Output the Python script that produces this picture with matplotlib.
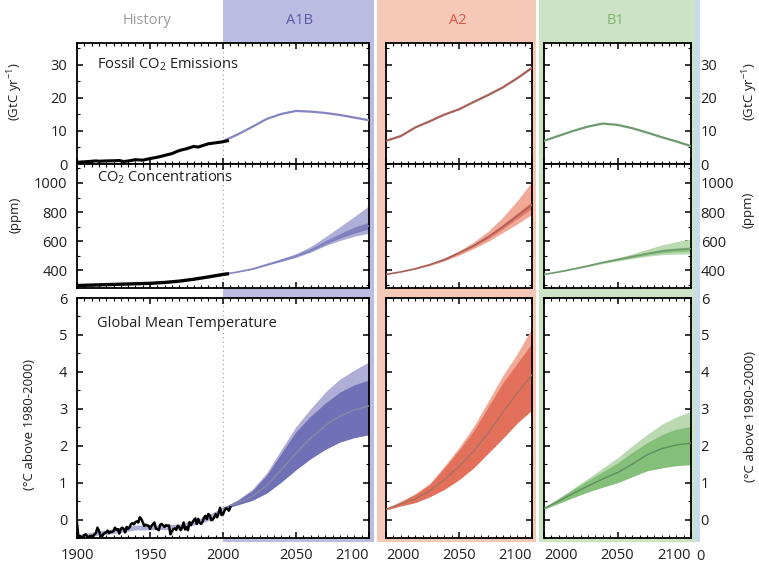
import matplotlib.pyplot as plt
from matplotlib.patches import Rectangle
from matplotlib.ticker import MultipleLocator

plt.rcParams['font.family'] = ['Open Sans', 'DejaVu Sans']
plt.rcParams['mathtext.default'] = 'regular'

W, H = 759, 567

# ---- observed history ----
EMIS_HIST_YEARS = [1900, 1905, 1910, 1913, 1915, 1920, 1925, 1929, 1932, 1935, 1940, 1945,
                   1950, 1955, 1960, 1965, 1970, 1975, 1980, 1983, 1985, 1990, 1995, 2000, 2003]
EMIS_HIST = [0.53, 0.66, 0.82, 0.94, 0.84, 0.93, 0.98, 1.05, 0.75, 0.90, 1.30, 1.16,
             1.63, 2.04, 2.58, 3.14, 4.05, 4.6, 5.3, 5.1, 5.4, 6.1, 6.4, 6.7, 7.0]

CO2_HIST_YEARS = [1900, 1910, 1920, 1930, 1940, 1950, 1960, 1970, 1980, 1990, 2000, 2003]
CO2_HIST = [297, 300, 303, 306, 309, 312, 318, 327, 340, 356, 373, 377]

TEMP_HIST_YEARS = list(range(1900, 2006))
TEMP_HIST = [-0.10, -0.48, -0.45, -0.47, -0.48, -0.42, -0.40, -0.46, -0.47, -0.45,
             -0.44, -0.46, -0.40, -0.36, -0.22, -0.30, -0.42, -0.47, -0.40, -0.36,
             -0.35, -0.30, -0.37, -0.33, -0.34, -0.31, -0.22, -0.28, -0.26, -0.38,
             -0.25, -0.22, -0.26, -0.35, -0.20, -0.25, -0.21, -0.12, -0.10, -0.13,
             -0.07, -0.05, -0.08, 0.06, 0.02, -0.07, -0.17, -0.14, -0.16, -0.17,
             -0.25, -0.17, -0.13, -0.08, -0.24, -0.26, -0.29, -0.14, -0.12, -0.16,
             -0.20, -0.15, -0.17, -0.16, -0.40, -0.32, -0.26, -0.24, -0.28, -0.17,
             -0.20, -0.29, -0.22, -0.08, -0.27, -0.21, -0.29, -0.07, -0.15, -0.08,
             -0.02, 0.03, -0.12, 0.02, -0.09, -0.12, -0.06, 0.05, 0.10, 0.01,
             0.15, 0.11, -0.02, 0.00, 0.06, 0.15, 0.06, 0.17, 0.32, 0.12,
             0.14, 0.24, 0.30, 0.29, 0.24, 0.33]

# model hindcast range behind the observations
HIND_YEARS = [1900, 1910, 1920, 1930, 1940, 1950, 1960, 1970, 1980, 1990, 2000]
HIND_LOW = [-0.50, -0.45, -0.40, -0.35, -0.28, -0.28, -0.27, -0.25, -0.15, -0.03, 0.24]
HIND_HIGH = [-0.40, -0.35, -0.28, -0.22, -0.15, -0.15, -0.14, -0.12, -0.02, 0.12, 0.34]

# ---- scenario projections ----
YEARS = [2000, 2010, 2020, 2030, 2040, 2050, 2060, 2070, 2080, 2090, 2100]

A1B_EMIS = [6.9, 8.9, 11.2, 13.6, 15.1, 16.0, 15.8, 15.4, 14.8, 14.0, 13.2]
A2_EMIS = [7.0, 8.4, 11.0, 12.9, 14.9, 16.5, 18.7, 20.8, 23.1, 25.9, 29.0]
B1_EMIS = [7.0, 8.5, 10.0, 11.3, 12.2, 11.8, 10.8, 9.5, 8.1, 6.8, 5.4]

A1B_CO2 = [373, 390, 410, 440, 470, 500, 540, 590, 635, 675, 705]
A1B_CO2_LO = [373, 389, 407, 435, 462, 490, 525, 570, 605, 635, 655]
A1B_CO2_HI = [373, 391, 413, 445, 480, 515, 565, 630, 700, 770, 845]
A1B_CO2_DLO = [373, 390, 409, 438, 466, 495, 533, 580, 622, 657, 685]
A1B_CO2_DHI = [373, 390, 411, 442, 474, 506, 548, 603, 652, 697, 730]

A2_CO2 = [373, 390, 412, 440, 475, 520, 570, 630, 700, 775, 850]
A2_CO2_LO = [373, 389, 409, 434, 466, 505, 550, 600, 660, 720, 785]
A2_CO2_HI = [373, 391, 415, 446, 485, 535, 595, 670, 765, 880, 1010]
A2_CO2_DLO = [373, 390, 411, 438, 470, 515, 562, 618, 685, 755, 825]
A2_CO2_DHI = [373, 390, 413, 443, 480, 525, 578, 642, 715, 795, 875]

B1_CO2 = [373, 390, 410, 432, 455, 475, 495, 515, 532, 542, 548]
B1_CO2_LO = [373, 389, 407, 427, 447, 465, 482, 497, 508, 512, 514]
B1_CO2_HI = [373, 391, 413, 437, 462, 487, 515, 545, 575, 598, 616]
B1_CO2_DLO = [373, 390, 409, 430, 452, 470, 488, 505, 520, 528, 532]
B1_CO2_DHI = [373, 390, 411, 434, 458, 480, 503, 525, 545, 556, 562]

A1B_TEMP = [0.30, 0.45, 0.62, 0.92, 1.35, 1.80, 2.20, 2.55, 2.80, 2.97, 3.08]
A1B_TEMP_LO = [0.28, 0.40, 0.52, 0.72, 1.02, 1.35, 1.65, 1.90, 2.10, 2.22, 2.30]
A1B_TEMP_DHI = [0.32, 0.52, 0.78, 1.20, 1.80, 2.38, 2.80, 3.15, 3.45, 3.65, 3.78]
A1B_TEMP_HI = [0.32, 0.53, 0.82, 1.27, 1.90, 2.52, 3.00, 3.45, 3.80, 4.05, 4.27]

A2_TEMP = [0.28, 0.42, 0.56, 0.78, 1.08, 1.44, 1.85, 2.35, 2.90, 3.43, 3.92]
A2_TEMP_LO = [0.26, 0.37, 0.46, 0.62, 0.82, 1.08, 1.40, 1.80, 2.20, 2.62, 2.97]
A2_TEMP_DHI = [0.30, 0.48, 0.68, 0.95, 1.40, 1.88, 2.40, 3.05, 3.70, 4.24, 4.78]
A2_TEMP_HI = [0.30, 0.49, 0.70, 0.98, 1.45, 1.95, 2.52, 3.20, 3.90, 4.50, 5.19]

B1_TEMP = [0.30, 0.50, 0.71, 0.91, 1.10, 1.27, 1.50, 1.75, 1.92, 2.02, 2.07]
B1_TEMP_LO = [0.28, 0.44, 0.60, 0.75, 0.88, 1.00, 1.16, 1.32, 1.40, 1.46, 1.49]
B1_TEMP_DHI = [0.32, 0.57, 0.82, 1.06, 1.30, 1.53, 1.82, 2.08, 2.30, 2.45, 2.52]
B1_TEMP_HI = [0.32, 0.58, 0.85, 1.12, 1.40, 1.67, 2.00, 2.30, 2.58, 2.78, 2.93]

# colours per scenario: frame, header text, emission line, light band, dark band, mean line
COLORS = {
    'A1B': dict(frame='#bcbce2', text='#5a5aaa', line='#8484c2', light='#aeaed6', dark='#7070b6', mean='#8888a8'),
    'A2': dict(frame='#f5c8b8', text='#de5a42', line='#a8605a', light='#f2aa98', dark='#e2705a', mean='#a87060'),
    'B1': dict(frame='#cce3c6', text='#80b468', line='#6e9a6e', light='#bcdab2', dark='#84c07a', mean='#5e8e5e'),
}
INK = '#1e1e1e'


def fx(px):
    return px / W


def box(x0, y0, x1, y1):
    return [x0 / W, 1 - y1 / H, (x1 - x0) / W, (y1 - y0) / H]


def style(ax, xlim, ylim, ymaj, ymin):
    ax.set_xlim(*xlim)
    ax.set_ylim(*ylim)
    ax.xaxis.set_major_locator(MultipleLocator(50))
    ax.xaxis.set_minor_locator(MultipleLocator(5))
    ax.yaxis.set_major_locator(MultipleLocator(ymaj))
    ax.yaxis.set_minor_locator(MultipleLocator(ymin))
    ax.tick_params(which='both', direction='in', top=True, right=True,
                   labelsize=10.5, pad=7, labelcolor=INK)
    ax.tick_params(which='major', length=4, width=1.1)
    ax.tick_params(which='minor', length=2, width=0.8)
    ax.tick_params(labelbottom=False, labelleft=False)
    for s in ax.spines.values():
        s.set_linewidth(1.3)
    ax.set_facecolor('white')


fig = plt.figure(figsize=(W / 100, H / 100), dpi=100)

# scenario frames behind the panels
for x0, x1, key in [(223, 374, 'A1B'), (377, 536, 'A2'), (539, 695, 'B1')]:
    fig.patches.append(Rectangle((fx(x0), 1 - 542 / H), fx(x1 - x0), 542 / H,
                                 transform=fig.transFigure, color=COLORS[key]['frame'],
                                 zorder=-5, lw=0))
fig.patches.append(Rectangle((fx(695), 1 - 542 / H), fx(5), 542 / H,
                             transform=fig.transFigure, color='#c4dcee', zorder=-5, lw=0))

fig.text(fx(147), 1 - 20 / H, 'History', ha='center', va='center', fontsize=10.5, color='#9a9a9a')
fig.text(fx(300), 1 - 20 / H, 'A1B', ha='center', va='center', fontsize=10.5, color=COLORS['A1B']['text'])
fig.text(fx(458), 1 - 20 / H, 'A2', ha='center', va='center', fontsize=10.5, color=COLORS['A2']['text'])
fig.text(fx(615), 1 - 20 / H, 'B1', ha='center', va='center', fontsize=10.5, color=COLORS['B1']['text'])

cols = [(77, 369, (1900, 2100), 'A1B'), (386, 532, (2000, 2100), 'A2'), (544, 691, (2000, 2100), 'B1')]
rows = [(43, 164), (164, 288), (298, 538)]

for ci, (x0, x1, xlim, key) in enumerate(cols):
    c = COLORS[key]
    ax_e = fig.add_axes(box(x0, rows[0][0], x1, rows[0][1]))
    ax_c = fig.add_axes(box(x0, rows[1][0], x1, rows[1][1]))
    ax_t = fig.add_axes(box(x0, rows[2][0], x1, rows[2][1]))
    style(ax_e, xlim, (0, 36.5), 10, 5)
    style(ax_c, xlim, (280, 1130), 200, 100)
    style(ax_t, xlim, (-0.5, 6), 1, 0.5)
    ax_t.tick_params(labelbottom=True)

    emis = {'A1B': A1B_EMIS, 'A2': A2_EMIS, 'B1': B1_EMIS}[key]
    ax_e.plot(YEARS, emis, color=c['line'], lw=1.6, zorder=3)

    co2 = {'A1B': (A1B_CO2, A1B_CO2_LO, A1B_CO2_HI, A1B_CO2_DLO, A1B_CO2_DHI),
           'A2': (A2_CO2, A2_CO2_LO, A2_CO2_HI, A2_CO2_DLO, A2_CO2_DHI),
           'B1': (B1_CO2, B1_CO2_LO, B1_CO2_HI, B1_CO2_DLO, B1_CO2_DHI)}[key]
    ax_c.fill_between(YEARS, co2[1], co2[2], color=c['light'], lw=0, zorder=2)
    ax_c.fill_between(YEARS, co2[3], co2[4], color=c['dark'], lw=0, zorder=2, alpha=0.8)
    ax_c.plot(YEARS, co2[0], color=c['line'], lw=1.2, zorder=3)

    temp = {'A1B': (A1B_TEMP, A1B_TEMP_LO, A1B_TEMP_DHI, A1B_TEMP_HI),
            'A2': (A2_TEMP, A2_TEMP_LO, A2_TEMP_DHI, A2_TEMP_HI),
            'B1': (B1_TEMP, B1_TEMP_LO, B1_TEMP_DHI, B1_TEMP_HI)}[key]
    ax_t.fill_between(YEARS, temp[1], temp[3], color=c['light'], lw=0, zorder=2)
    ax_t.fill_between(YEARS, temp[1], temp[2], color=c['dark'], lw=0, zorder=2)
    ax_t.plot(YEARS, temp[0], color=c['mean'], lw=1.0, zorder=3)

    if ci == 0:
        ax_t.fill_between(HIND_YEARS, HIND_LOW, HIND_HIGH, color=c['light'], lw=0, zorder=2)
        ax_e.plot(EMIS_HIST_YEARS, EMIS_HIST, color='black', lw=2.2, zorder=4)
        ax_c.plot(CO2_HIST_YEARS, CO2_HIST, color='black', lw=2.4, zorder=4)
        ax_t.plot(TEMP_HIST_YEARS, TEMP_HIST, color='black', lw=1.8, zorder=4)
        for ax in (ax_e, ax_c, ax_t):
            ax.axvline(2000, color='#999999', lw=0.8, ls=(0, (1, 3)), zorder=1)
            ax.tick_params(labelleft=True)
        ax_e.text(1914, 30, 'Fossil CO$_2$ Emissions', fontsize=10.5, va='center', color=INK)
        ax_c.text(1914, 1035, 'CO$_2$ Concentrations', fontsize=10.5, va='center', color=INK)
        ax_t.text(1914, 5.3, 'Global Mean Temperature', fontsize=10.5, va='center', color=INK)
    if ci == 2:
        for ax in (ax_e, ax_c, ax_t):
            ax.tick_params(labelright=True)

    # end labels of the year axis are pulled inward so neighbouring panels do not collide
    ticks = list(range(xlim[0], xlim[1] + 1, 50))
    ax_t.set_xticks(ticks)
    ax_t.set_xticklabels([str(t) for t in ticks])
    tl = ax_t.get_xticklabels()
    if ci > 0:
        tl[0].set_ha('left')
    tl[-1].set_ha('right')

# stray trailing digit after the last year label
fig.text(fx(696), 1 - 557 / H, '0', ha='left', va='center', fontsize=10.5, color=INK)

lab = dict(fontsize=9.5, rotation=90, ha='center', va='center', color=INK)
fig.text(fx(15), 1 - 92 / H, '(GtC yr$^{-1}$)', **lab)
fig.text(fx(15), 1 - 215 / H, '(ppm)', **lab)
fig.text(fx(30), 1 - 424 / H, '(°C above 1980-2000)', **lab)
fig.text(fx(750), 1 - 92 / H, '(GtC yr$^{-1}$)', **lab)
fig.text(fx(748), 1 - 210 / H, '(ppm)', **lab)
fig.text(fx(750), 1 - 417 / H, '(°C above 1980-2000)', **lab)

fig.savefig('out.png', dpi=100)
